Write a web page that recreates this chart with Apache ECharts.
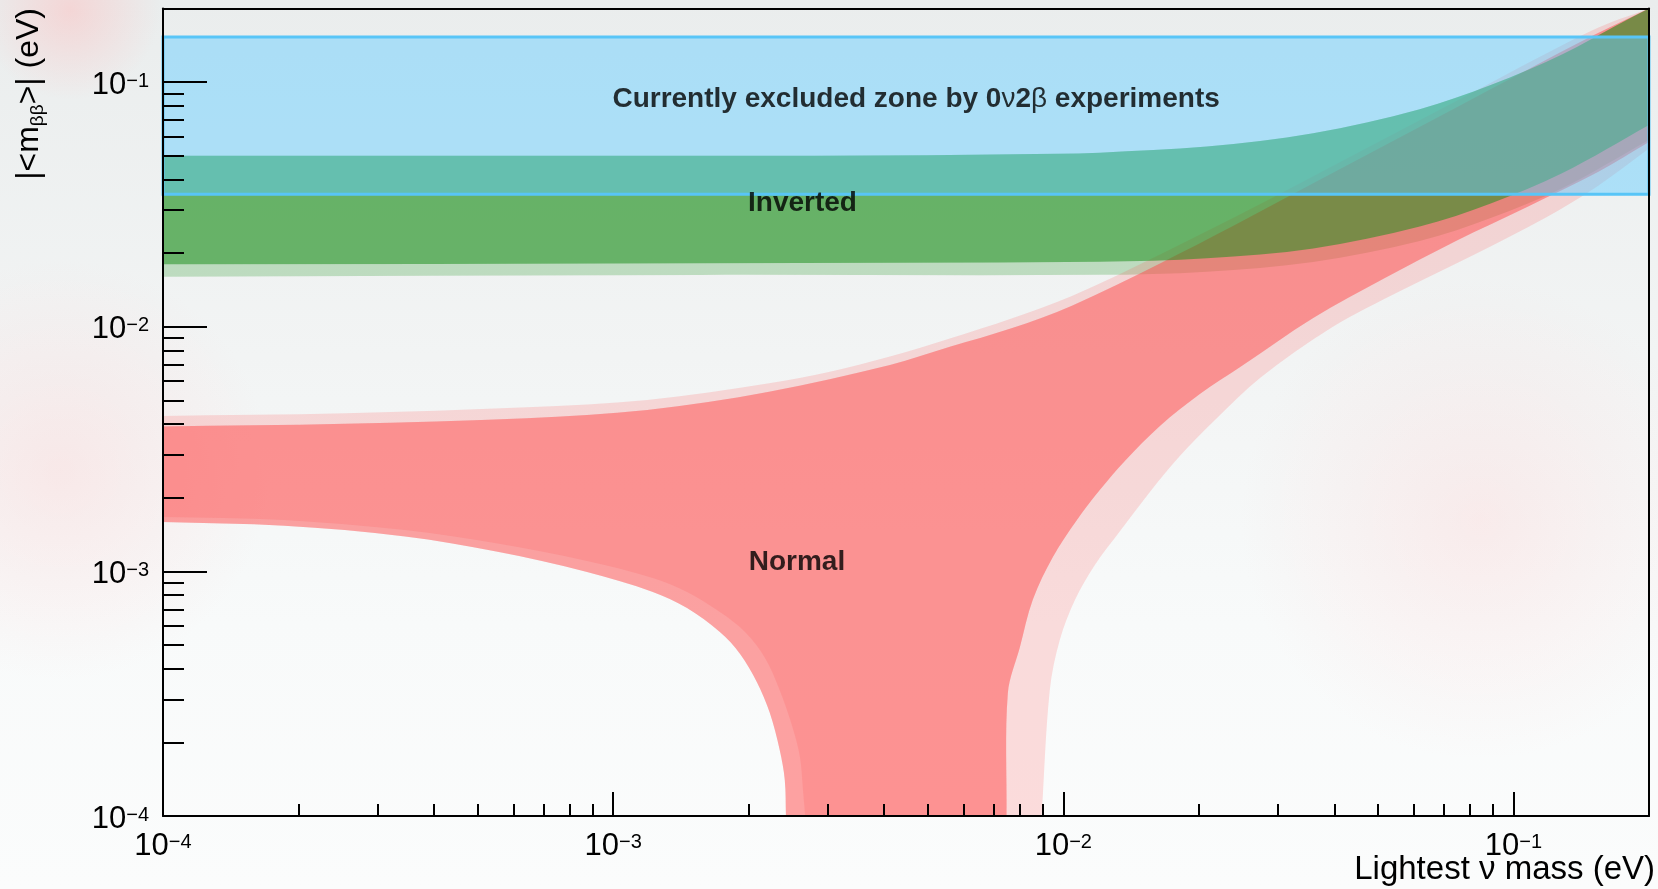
<!DOCTYPE html>
<html>
<head>
<meta charset="utf-8">
<title>Effective Majorana mass vs lightest neutrino mass</title>
<script src="https://cdn.jsdelivr.net/npm/echarts@6.0.0/dist/echarts.min.js"></script>
<style>
html, body { margin:0; padding:0; width:1658px; height:889px; overflow:hidden; background:#f3f5f5; }
#chart { width:1658px; height:889px; }
</style>
</head>
<body>
<div id="chart"></div>
<script>
const FONT = '"Liberation Sans", Arial, Helvetica, sans-serif';

// ---- axis ranges (eV) ----
const xRange = [1e-4, 0.2];
const yRange = [1e-4, 0.2];
const minorMultipliers = [2, 3, 4, 5, 6, 7, 8, 9];

// ---- Normal ordering band: [lightest mass, |<m_bb>|] ----
const normalUpperOuter = [[1e-4,4.32e-3],[2.54e-4,4.43e-3],[6.43e-4,4.69e-3],[1.19e-3,5.02e-3],[2.22e-3,5.87e-3],[3.03e-3,6.55e-3],[4.12e-3,7.55e-3],[5.62e-3,8.97e-3],[7.67e-3,1.08e-2],[1.045e-2,1.335e-2],[1.644e-2,1.98e-2],[2.4e-2,2.8e-2],[3.59e-2,4.12e-2],[7.45e-2,8.35e-2],[0.1486,0.162],[0.2,0.2]];
const normalUpperCore = [[1e-4,3.91e-3],[2.54e-4,4.01e-3],[6.43e-4,4.23e-3],[1.19e-3,4.57e-3],[2.22e-3,5.43e-3],[4.12e-3,6.98e-3],[5.62e-3,8.30e-3],[7.67e-3,9.86e-3],[1.045e-2,1.22e-2],[1.644e-2,1.82e-2],[2.4e-2,2.6e-2],[3.59e-2,3.86e-2],[7.45e-2,7.85e-2],[0.1486,0.1535],[0.2,0.2]];
const normalLowerLeftOuter = [[1e-4,1.59e-3],[1.86e-4,1.535e-3],[3.45e-4,1.39e-3],[5.50e-4,1.205e-3],[8.75e-4,9.94e-4],[1.225e-3,8.24e-4],[1.459e-3,7.08e-4],[1.726e-3,5.65e-4],[1.914e-3,4.60e-4],[2.085e-3,3.53e-4],[2.228e-3,2.64e-4],[2.344e-3,1.86e-4],[2.406e-3,1.40e-4],[2.42e-3,1e-4]];
const normalLowerLeftCore = [[1e-4,1.669e-3],[1.86e-4,1.622e-3],[3.45e-4,1.475e-3],[5.50e-4,1.303e-3],[8.75e-4,1.103e-3],[1.225e-3,9.40e-4],[1.459e-3,8.24e-4],[1.726e-3,6.82e-4],[1.963e-3,5.65e-4],[2.174e-3,4.43e-4],[2.344e-3,3.27e-4],[2.495e-3,2.35e-4],[2.60e-3,1.74e-4],[2.64e-3,1.28e-4],[2.67e-3,1e-4]];
const normalLowerRightCore = [[7.48e-3,1e-4],[7.53e-3,3.18e-4],[8.01e-3,4.91e-4],[8.55e-3,7.64e-4],[9.48e-3,1.145e-3],[1.072e-2,1.622e-3],[1.205e-2,2.15e-3],[1.37e-2,2.827e-3],[1.639e-2,3.93e-3],[2.01e-2,5.31e-3],[2.49e-2,6.91e-3],[3.59e-2,1.086e-2],[5.18e-2,1.583e-2],[7.45e-2,2.243e-2],[0.1072,3.09e-2],[0.154,4.29e-2],[0.2,0.0569]];
const normalLowerRightOuter = [[8.95e-3,1e-4],[9.33e-3,3.27e-4],[9.82e-3,5.24e-4],[1.061e-2,7.64e-4],[1.175e-2,1.062e-3],[1.337e-2,1.463e-3],[1.557e-2,2.112e-3],[1.815e-2,2.963e-3],[2.172e-2,4.16e-3],[2.735e-2,6.18e-3],[3.93e-2,9.89e-3],[5.66e-2,1.414e-2],[8.15e-2,1.966e-2],[0.1175,2.785e-2],[0.154,3.764e-2],[0.2,0.0535]];

// ---- Inverted ordering band ----
const invertedUpper = [[1e-4,0.0500],[1.56e-3,0.0500],[5.0e-3,0.0503],[9.68e-3,0.0510],[1.205e-2,0.0515],[2.085e-2,0.0545],[3.59e-2,0.0618],[6.19e-2,0.0775],[8.93e-2,0.0975],[0.1285,0.130],[0.1688,0.170],[0.2,0.2]];
const invertedLowerCore = [[1e-4,0.0180],[1.56e-3,0.0182],[1.205e-2,0.01845],[2.085e-2,0.01905],[3.59e-2,0.0209],[6.19e-2,0.0257],[8.93e-2,0.0320],[0.1285,0.0425],[0.2,0.0668]];
const invertedLowerOuter = [[1e-4,0.0160],[1.56e-3,0.01629],[1.205e-2,0.0163],[2.085e-2,0.0168],[3.59e-2,0.0184],[6.19e-2,0.0224],[8.93e-2,0.0279],[0.1285,0.0369],[0.2,0.0580]];

// ---- Excluded |<m_bb>| zone (eV) ----
const excludedZone = [0.0348, 0.1530];

// ---- Annotations ----
const annotationTexts = ['Currently excluded zone by 0ν2β experiments', 'Inverted', 'Normal'];
const annotationX = [4.71e-3, 2.634e-3, 2.56e-3];
const annotationY = [0.0854, 0.0321, 1.088e-3];

const xAxisTitle = 'Lightest ν mass (eV)';
const yAxisTitleRich = '{a||<m}{s|ββ}{a|>| (eV)}';

// ---------- helpers ----------
function rev(a) { return a.slice().reverse(); }
function minorLogValues(range) {
  const out = [];
  const e0 = Math.floor(Math.log10(range[0])), e1 = Math.ceil(Math.log10(range[1]));
  for (let e = e0; e <= e1; e++) {
    minorMultipliers.forEach(m => {
      const v = m * Math.pow(10, e);
      if (v > range[0] && v < range[1] * 0.999) out.push(Math.log10(v));
    });
  }
  return out;
}
// chord-length cubic smoothing through the (pixel) points
function smoothSeg(pts) {
  const n = pts.length;
  const dist = (a, b) => Math.hypot(b[0] - a[0], b[1] - a[1]) || 1e-6;
  const tan = i => {
    let a, b, L;
    if (i === 0) { a = pts[0]; b = pts[1]; L = dist(a, b); }
    else if (i === n - 1) { a = pts[n - 2]; b = pts[n - 1]; L = dist(a, b); }
    else { a = pts[i - 1]; b = pts[i + 1]; L = dist(pts[i - 1], pts[i]) + dist(pts[i], pts[i + 1]); }
    return [(b[0] - a[0]) / L, (b[1] - a[1]) / L];
  };
  let d = '';
  for (let i = 0; i < n - 1; i++) {
    const p1 = pts[i], p2 = pts[i + 1], L = dist(p1, p2), t1 = tan(i), t2 = tan(i + 1);
    const c1x = p1[0] + t1[0] * L / 3, c1y = p1[1] + t1[1] * L / 3;
    const c2x = p2[0] - t2[0] * L / 3, c2y = p2[1] - t2[1] * L / 3;
    d += ' C' + c1x + ',' + c1y + ' ' + c2x + ',' + c2y + ' ' + p2[0] + ',' + p2[1];
  }
  return d;
}
function regionPath(api, curves) {
  let d = '';
  curves.forEach((curve, k) => {
    const px = curve.map(p => api.coord(p));
    d += (k === 0 ? 'M' : ' L') + px[0][0] + ',' + px[0][1];
    d += smoothSeg(px);
  });
  return d + ' Z';
}
function regionSeries(name, curves, color, z) {
  return {
    type: 'custom', name: name, xAxisIndex: 0, yAxisIndex: 0, silent: true, z: z,
    data: [curves[0][0]],
    renderItem: function (params, api) {
      return { type: 'path', shape: { pathData: regionPath(api, curves) }, style: { fill: color, stroke: null } };
    }
  };
}
function radial(c) {
  return new echarts.graphic.RadialGradient(0.5, 0.5, 0.5, [{ offset: 0, color: c }, { offset: 1, color: c.replace(/[\d.]+\)$/, '0)') }]);
}
function powLabel(v) {
  const e = Math.log10(v), r = Math.round(e);
  if (Math.abs(e - r) > 1e-6) return '';
  return '{b|10}{s|' + (r < 0 ? '\u2212' : '') + Math.abs(r) + '}';
}
const labelRich = {
  b: { fontFamily: FONT, fontSize: 31, lineHeight: 34, padding: [6, 0, 0, 0], color: '#000' },
  s: { fontFamily: FONT, fontSize: 20, lineHeight: 20, padding: [6, 0, 0, 0], verticalAlign: 'top', color: '#000' }
};

const chart = echarts.init(document.getElementById('chart'), null, { renderer: 'canvas' });
const gridBox = { left: 163, right: 9, top: 8.5, bottom: 73, outerBoundsMode: 'none', containLabel: false };
const lx = xRange.map(Math.log10), ly = yRange.map(Math.log10);

const option = {
  animation: false,
  backgroundColor: 'transparent',
  grid: [Object.assign({}, gridBox), Object.assign({}, gridBox)],
  xAxis: [
    { type: 'log', logBase: 10, gridIndex: 0, position: 'bottom', min: xRange[0], max: xRange[1], interval: 1, z: 10,
      axisLine: { show: true, onZero: false, lineStyle: { color: '#000', width: 2 } },
      axisTick: { show: true, inside: true, length: 24, lineStyle: { color: '#000', width: 2 } },
      axisLabel: { show: true, margin: 10, interval: 0, formatter: powLabel, rich: labelRich },
      splitLine: { show: false } },
    { type: 'log', logBase: 10, gridIndex: 0, position: 'top', min: xRange[0], max: xRange[1], z: 10,
      axisLine: { show: true, onZero: false, lineStyle: { color: '#000', width: 2 } },
      axisTick: { show: false }, axisLabel: { show: false }, splitLine: { show: false } },
    { type: 'value', gridIndex: 1, position: 'bottom', min: lx[0], max: lx[1], z: 10,
      axisLine: { show: false, onZero: false },
      axisTick: { show: true, inside: true, length: 12, customValues: minorLogValues(xRange), lineStyle: { color: '#000', width: 2 } },
      axisLabel: { show: false }, splitLine: { show: false } }
  ],
  yAxis: [
    { type: 'log', logBase: 10, gridIndex: 0, position: 'left', min: yRange[0], max: yRange[1], interval: 1, z: 10,
      axisLine: { show: true, onZero: false, lineStyle: { color: '#000', width: 2 } },
      axisTick: { show: true, inside: true, length: 44, lineStyle: { color: '#000', width: 2 } },
      axisLabel: { show: true, margin: 14, interval: 0, formatter: powLabel, rich: labelRich },
      splitLine: { show: false } },
    { type: 'log', logBase: 10, gridIndex: 0, position: 'right', min: yRange[0], max: yRange[1], z: 10,
      axisLine: { show: true, onZero: false, lineStyle: { color: '#000', width: 2 } },
      axisTick: { show: false }, axisLabel: { show: false }, splitLine: { show: false } },
    { type: 'value', gridIndex: 1, position: 'left', min: ly[0], max: ly[1], z: 10,
      axisLine: { show: false, onZero: false },
      axisTick: { show: true, inside: true, length: 21, customValues: minorLogValues(yRange), lineStyle: { color: '#000', width: 2 } },
      axisLabel: { show: false }, splitLine: { show: false } }
  ],
  graphic: [
    { type: 'rect', silent: true, z: -100, shape: { x: 0, y: 0, width: 1658, height: 889 },
      style: { fill: new echarts.graphic.LinearGradient(0, 0, 0, 1, [{ offset: 0, color: '#eaeded' }, { offset: 0.4, color: '#f2f4f4' }, { offset: 0.7, color: '#f8fafa' }, { offset: 1, color: '#fbfcfc' }]) } },
    { type: 'circle', silent: true, z: -99, shape: { cx: 1480, cy: 520, r: 240 }, style: { fill: radial('rgba(255,205,205,0.30)') } },
    { type: 'circle', silent: true, z: -99, shape: { cx: 60, cy: 470, r: 210 }, style: { fill: radial('rgba(255,205,205,0.35)') } },
    { type: 'circle', silent: true, z: -99, shape: { cx: 70, cy: 10, r: 90 }, style: { fill: radial('rgba(255,185,185,0.45)') } },
    { type: 'text', silent: true, z: 20, x: 1655, y: 869.5,
      style: { text: xAxisTitle, fontFamily: FONT, fontSize: 33, fill: '#000', align: 'right', textAlign: 'right', verticalAlign: 'middle', textVerticalAlign: 'middle' } },
    { type: 'text', silent: true, z: 20, x: 29, y: 8, rotation: Math.PI / 2,
      style: { text: yAxisTitleRich, align: 'right', textAlign: 'right', verticalAlign: 'middle', textVerticalAlign: 'middle',
        rich: { a: { fontFamily: FONT, fontSize: 32, lineHeight: 36, fill: '#000' },
                s: { fontFamily: FONT, fontSize: 19, lineHeight: 19, verticalAlign: 'bottom', fill: '#000' } } } }
  ],
  series: [
    regionSeries('Inverted 3σ', [invertedUpper, rev(invertedLowerOuter)], 'rgba(30,145,30,0.24)', 2),
    regionSeries('Normal 3σ', [normalUpperOuter, rev(normalLowerRightOuter), rev(normalLowerLeftOuter)], 'rgba(255,80,80,0.18)', 3),
    regionSeries('Normal mid', [normalUpperCore, rev(normalLowerRightCore), rev(normalLowerLeftOuter)], 'rgba(255,80,80,0.415)', 4),
    regionSeries('Normal', [normalUpperCore, rev(normalLowerRightCore), rev(normalLowerLeftCore)], 'rgba(255,80,80,0.167)', 5),
    regionSeries('Inverted', [invertedUpper, rev(invertedLowerCore)], 'rgba(30,145,30,0.54)', 6),
    {
      type: 'custom', name: 'Excluded', xAxisIndex: 0, yAxisIndex: 0, silent: true, z: 7,
      data: [[xRange[0], excludedZone[1]]],
      renderItem: function (params, api) {
        const a = api.coord([xRange[0], excludedZone[1]]);
        const b = api.coord([xRange[1], excludedZone[0]]);
        return { type: 'rect', shape: { x: a[0], y: a[1], width: b[0] - a[0], height: b[1] - a[1] },
                 style: { fill: 'rgba(100,205,255,0.48)', stroke: '#58c5f7', lineWidth: 3 } };
      }
    },
    {
      type: 'scatter', xAxisIndex: 0, yAxisIndex: 0, silent: true, z: 8,
      symbolSize: 1, itemStyle: { color: 'rgba(0,0,0,0)' },
      data: annotationTexts.map((t, i) => ({ name: t, value: [annotationX[i], annotationY[i]] })),
      label: { show: true, position: 'inside', formatter: p => p.name.replace(/([νβ])/g, '{g|$1}'),
        fontFamily: FONT, fontSize: 28, fontWeight: 'bold', color: '#000',
        rich: { g: { fontFamily: FONT, fontSize: 28, fontWeight: 'normal', color: '#000' } } }
    }
  ]
};
chart.setOption(option);
</script>
</body>
</html>
